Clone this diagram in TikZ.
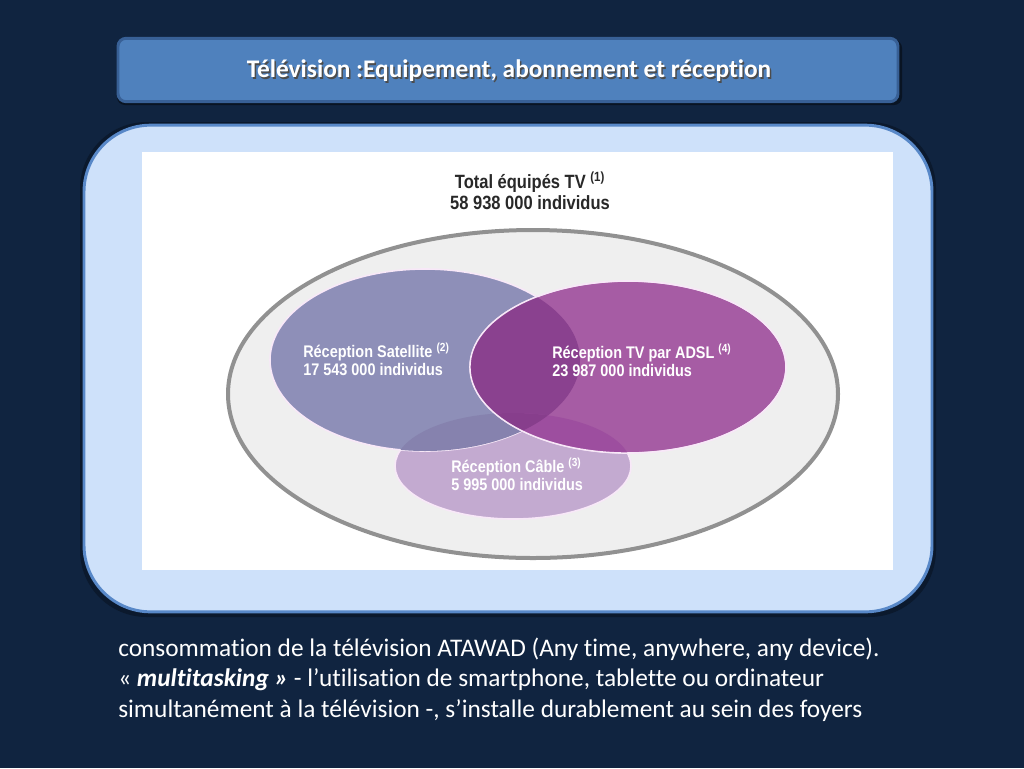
\documentclass[tikz,border=0pt]{standalone}
\usepackage{fontspec}
\usetikzlibrary{shapes.geometric}
\setmainfont[Ligatures={NoCommon,NoRare}]{Carlito}
\newfontfamily\vennfont[FakeStretch=0.86]{Liberation Sans}
\definecolor{bgnavy}{RGB}{16,36,64}
\definecolor{titlefill}{RGB}{79,129,189}
\definecolor{titleedge}{RGB}{56,96,150}
\definecolor{panelfill}{RGB}{206,225,250}
\definecolor{paneledge}{RGB}{88,136,200}
\definecolor{outerfill}{RGB}{239,239,239}
\definecolor{outeredge}{RGB}{145,145,145}
\definecolor{satfill}{RGB}{142,143,184}
\definecolor{adslfill}{RGB}{166,92,164}
\definecolor{cabfill}{RGB}{195,170,208}
\definecolor{satadsl}{RGB}{138,65,143}
\definecolor{satcab}{RGB}{134,130,174}
\definecolor{adslcab}{RGB}{157,78,159}
\definecolor{alltri}{RGB}{135,62,140}
\definecolor{vennedge}{RGB}{248,232,248}
\definecolor{darktext}{RGB}{40,40,40}
\tikzset{
  vennset/.style={ellipse, inner sep=0pt, outer sep=0pt, draw=vennedge, line width=1.2pt},
  vennlabel/.style={text=white, font=\vennfont\bfseries\fontsize{12.6pt}{13.5pt}\selectfont, align=left, anchor=north west, inner sep=0pt},
  bodyline/.style={text=white, font=\fontsize{19pt}{22pt}\selectfont, anchor=base west, inner sep=0pt}
}
\begin{document}
\begin{tikzpicture}[x=0.75pt,y=-0.75pt]
\useasboundingbox (0,0) rectangle (1024,768);
\fill[bgnavy] (0,0) rectangle (1024,768);
% title bar
\fill[black!45!bgnavy, rounded corners=6pt] (117,40) rectangle (902,105);
\node[draw=titleedge, line width=2.2pt, fill=titlefill, rounded corners=6pt, minimum width=585pt, minimum height=47.5pt, inner sep=0pt] (title) at (508,70) {};
\node[text=black!70, font=\bfseries\fontsize{19pt}{22pt}\selectfont] at (510.5,72.5) {Télévision :Equipement, abonnement et réception};
\node[text=white, font=\bfseries\fontsize{19pt}{22pt}\selectfont] (titletext) at (509,71) {Télévision :Equipement, abonnement et réception};
% panel
\fill[black!30!bgnavy, rounded corners=50pt] (80,122) rectangle (936,617);
\node[draw=paneledge, line width=2.2pt, fill=panelfill, rounded corners=50pt, minimum width=636pt, minimum height=365pt, inner sep=0pt] (panel) at (508,368.5) {};
\fill[white] (142,152) rectangle (893,570);
% outer set
\node[ellipse, inner sep=0pt, fill=outerfill, draw=outeredge, line width=3pt, minimum width=457.5pt, minimum height=246pt] (outer) at (533,394) {};
% venn sets
\node[vennset, fill=cabfill, minimum width=177pt, minimum height=79.5pt] (cable) at (513,466) {};
\node[vennset, fill=satfill, minimum width=232.5pt, minimum height=136.5pt] (sat) at (425,360) {};
\begin{scope}
  \clip (425,360) ellipse [x radius=116.25pt, y radius=68.25pt];
  \fill[satcab] (513,466) ellipse [x radius=88.5pt, y radius=39.75pt];
\end{scope}
\node[vennset, fill=adslfill, minimum width=237pt, minimum height=129pt] (adsl) at (628,367) {};
\begin{scope}
  \clip (628,367) ellipse [x radius=118.5pt, y radius=64.5pt];
  \fill[satadsl] (425,360) ellipse [x radius=116.25pt, y radius=68.25pt];
  \fill[adslcab] (513,466) ellipse [x radius=88.5pt, y radius=39.75pt];
  \clip (425,360) ellipse [x radius=116.25pt, y radius=68.25pt];
  \fill[alltri] (513,466) ellipse [x radius=88.5pt, y radius=39.75pt];
\end{scope}
\draw[vennedge, line width=1pt] (628,367) ellipse [x radius=118.5pt, y radius=64.5pt];
% labels
\node[text=darktext, font=\vennfont\bfseries\fontsize{14.4pt}{15.8pt}\selectfont, align=center, inner sep=0pt] (total) at (530,191) {Total équipés TV \textsuperscript{(1)}\\58 938 000 individus};
\node[vennlabel] (satlabel) at (303,343) {Réception Satellite \textsuperscript{(2)}\\17 543 000 individus};
\node[vennlabel] (adsllabel) at (552,344) {Réception TV par ADSL \textsuperscript{(4)}\\23 987 000 individus};
\node[vennlabel] (cablabel) at (451,458) {Réception Câble \textsuperscript{(3)}\\5 995 000 individus};
% body text
\node[bodyline] (l1) at (118,656) {consommation de la télévision ATAWAD (Any time, anywhere, any device).};
\node[bodyline] (l2) at (118,686) {« \textbf{\textit{multitasking »}} - l’utilisation de smartphone, tablette ou ordinateur};
\node[bodyline] (l3) at (118,717) {simultanément à la télévision -, s’installe durablement au sein des foyers};
\end{tikzpicture}
\end{document}
